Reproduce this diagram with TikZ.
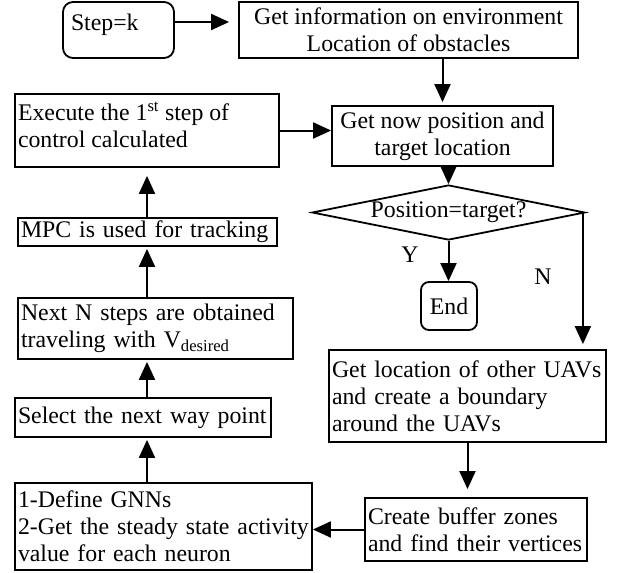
\documentclass[tikz,border=0pt]{standalone}
\usepackage{fontspec}
\setmainfont{Liberation Serif}
\usetikzlibrary{arrows.meta,shapes.geometric}
\begin{document}
\begin{tikzpicture}[x=1pt,y=-1pt,
  every node/.style={font=\fontsize{23.8}{27}\selectfont},
  box/.style={draw, line width=1.8pt, inner xsep=3pt, inner ysep=0pt, align=left},
  cbox/.style={draw, line width=1.8pt, inner sep=0pt, align=center},
  arr/.style={line width=2pt, -{Triangle[length=18pt,width=16pt]}},
  ]
\useasboundingbox (0,0) rectangle (619,573);
\coordinate (colx) at (147,0);
% right column
\node[box, rounded corners=10pt, minimum width=111pt, minimum height=56pt, text width=95pt, inner xsep=8pt, text height=28pt, text depth=28pt] (step) at (118.5,30) {Step=k};
\node[cbox, minimum width=339pt, minimum height=56pt] (info) at (408.5,30) {Get information on environment\\Location of obstacles};
\node[cbox, minimum width=221pt, minimum height=60pt] (getnow) at (442.5,136) {Get now position and\\target location};
\node[draw, line width=1.8pt, diamond, aspect=5, inner sep=0pt, minimum width=273pt, minimum height=55pt] (dia) at (448.5,212.5) {\raisebox{-2pt}{Position=target?}};
\node[cbox, rounded corners=8pt, minimum width=56pt, minimum height=48pt] (endn) at (449,306) {End};
\node[box, minimum width=277pt, minimum height=92pt, text width=271pt] (uav) at (467.5,396) {\mbox{Get location of other UAVs}\\\mbox{and create a boundary}\\\mbox{around the UAVs}};
\node[box, minimum width=222pt, minimum height=63pt, text width=216pt] (create) at (476,529.5) {\mbox{Create buffer zones}\\\mbox{and find their vertices}};
% left column
\node[box, minimum width=264pt, minimum height=73pt] (exec) at (147,130.5) {\raisebox{6pt}[\height][\depth]{\parbox{258pt}{\mbox{Execute the 1\textsuperscript{st} step of}\\\mbox{control calculated}}}};
\node[box, minimum width=259pt, minimum height=28pt, text width=253pt] (mpc) at (147.5,232) {\mbox{MPC is used for tracking}};
\node[box, minimum width=275pt, minimum height=61pt, text width=269pt] (nextn) at (155.5,328.5) {\mbox{Next N steps are obtained}\\\mbox{traveling with V\textsubscript{desired}}};
\node[box, minimum width=256pt, minimum height=39pt, text width=250pt] (select) at (143,417.5) {\mbox{Select the next way point}};
\node[box, minimum width=297pt, minimum height=87pt, text width=291pt] (gnn) at (163.5,526.5) {\mbox{1-Define GNNs}\\\mbox{2-Get the steady state activity}\\\mbox{value for each neuron}};
% labels
\node (ylab) at (410,255) {Y};
\node (nlab) at (543,277) {N};
% connectors
\draw[arr, shorten >=9pt] ([yshift=8pt]step.east) -- ([yshift=8pt]info.west);
\draw[arr, shorten >=3pt] (getnow.north |- info.south) -- (getnow.north);
\draw[arr] (exec.east) -- (exec.east -| getnow.west);
\draw[arr] (dia.north |- getnow.south) -- (dia.north);
\draw[arr] (dia.south) -- (dia.south |- endn.north);
\draw[arr, shorten >=5pt] ([xshift=-3pt]dia.east) -- ([xshift=-3pt]dia.east |- uav.north);
\draw[arr, shorten >=8pt] (uav.south) -- (uav.south |- create.north);
\draw[arr] (create.west) -- (create.west -| gnn.east);
\draw[arr, shorten >=2pt] (gnn.north -| colx) -- (select.south -| colx);
\draw[arr, shorten >=2pt] (select.north -| colx) -- (nextn.south -| colx);
\draw[arr, shorten >=2pt] (nextn.north -| colx) -- (mpc.south -| colx);
\draw[arr, shorten >=8pt] (mpc.north -| colx) -- (exec.south -| colx);
\end{tikzpicture}
\end{document}
